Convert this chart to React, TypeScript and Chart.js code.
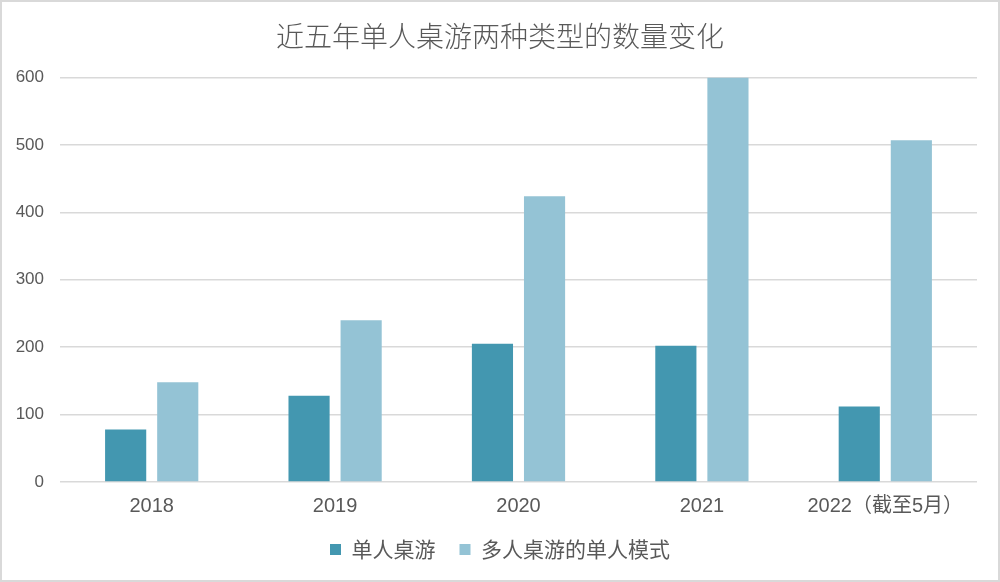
import React, { useEffect, useRef } from "react";
import { Chart, registerables } from "chart.js";

Chart.register(...registerables);

const titleText = "近五年单人桌游两种类型的数量变化";
const categories = ["2018", "2019", "2020", "2021", "2022（截至5月）"];
const seriesNames = ["单人桌游", "多人桌游的单人模式"];
const soloGames = [78, 128, 205, 202, 112];
const multiSoloMode = [148, 240, 424, 600, 507];
const yTicks = [0, 100, 200, 300, 400, 500, 600];

const DARK = "#4397b0";
const LIGHT = "#94c3d5";
const TEXT = "#595959";
const GRID = "#d9d9d9";

const borderPlugin = {
  id: "outerBorder",
  afterDraw(chart: any) {
    const ctx = chart.ctx;
    ctx.save();
    ctx.strokeStyle = GRID;
    ctx.lineWidth = 2;
    ctx.strokeRect(1, 1, chart.width - 2, chart.height - 2);
    ctx.restore();
  },
};

const bgPlugin = {
  id: "bg",
  beforeDraw(chart: any) {
    const ctx = chart.ctx;
    ctx.save();
    ctx.fillStyle = "#ffffff";
    ctx.fillRect(0, 0, chart.width, chart.height);
    ctx.restore();
  },
};

// center title and legend on the full canvas width rather than the padded area
const centerPlugin = {
  id: "centerBlocks",
  afterLayout(chart: any) {
    const shift = 11.5;
    const blocks = [chart.titleBlock, chart.legend];
    blocks.forEach((b: any) => {
      if (b) {
        b.left += shift;
        b.right += shift;
      }
    });
  },
};

export default function App() {
  const ref = useRef<HTMLCanvasElement | null>(null);
  useEffect(() => {
    if (!ref.current) return;
    const chart = new Chart(ref.current, {
      type: "bar",
      data: {
        labels: categories,
        datasets: [
          {
            label: seriesNames[0],
            data: soloGames,
            backgroundColor: DARK,
            categoryPercentage: 0.568,
            barPercentage: 0.79,
          },
          {
            label: seriesNames[1],
            data: multiSoloMode,
            backgroundColor: LIGHT,
            categoryPercentage: 0.568,
            barPercentage: 0.79,
          },
        ],
      },
      options: {
        animation: false,
        responsive: false,
        maintainAspectRatio: false,
        layout: { padding: { left: 0, right: 23, top: 0, bottom: 12 } },
        plugins: {
          title: {
            display: true,
            text: titleText,
            color: TEXT,
            font: { family: "'Noto Sans CJK SC', sans-serif", size: 28, weight: "300", lineHeight: 1.2 },
            padding: { top: 20, bottom: 24 },
          },
          legend: {
            position: "bottom",
            labels: {
              color: TEXT,
              boxWidth: 11,
              boxHeight: 11,
              padding: 24,
              font: { family: "'Noto Sans CJK SC', sans-serif", size: 21 },
            },
          },
          tooltip: { enabled: false },
        },
        scales: {
          x: {
            grid: { display: false, drawTicks: false },
            border: { display: false },
            afterFit(scale: any) {
              scale.height = scale.height - 15;
            },
            ticks: {
              color: TEXT,
              padding: 12,
              font: { family: "'Liberation Sans', 'Noto Sans CJK SC', sans-serif", size: 20 },
            },
          },
          y: {
            min: 0,
            max: 600,
            afterFit(scale: any) {
              scale.width = 60;
            },
            afterBuildTicks(scale: any) {
              scale.ticks = yTicks.map((v) => ({ value: v }));
            },
            grid: { color: GRID, lineWidth: 1.5, drawTicks: false },
            border: { display: false },
            ticks: {
              color: TEXT,
              padding: 16,
              font: { family: "'Liberation Sans', sans-serif", size: 17 },
            },
          },
        },
      },
      plugins: [bgPlugin, borderPlugin, centerPlugin],
    });
    return () => chart.destroy();
  }, []);
  return (
    <div style={{ position: "fixed", left: 0, top: 0, width: 1000, height: 582, background: "#fff" }}>
      <canvas ref={ref} width={1000} height={582} style={{ display: "block" }} />
    </div>
  );
}
